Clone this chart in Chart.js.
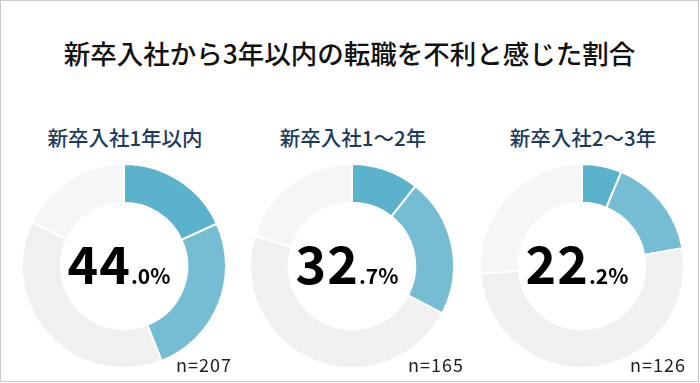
<!DOCTYPE html>
<html>
<head>
<meta charset="utf-8">
<script src="https://cdn.jsdelivr.net/npm/chart.js@4"></script>
<style>
  html, body { margin: 0; padding: 0; background: #fff; }
  body { font-family: "Noto Sans CJK JP", "Noto Sans", sans-serif; }
  #frame {
    position: relative; width: 697px; height: 380px;
    border: 1px solid #c9c9c9; background: #fff; overflow: hidden;
  }
  #title {
    position: absolute; left: 0; top: 32px; width: 100%;
    text-align: center; font-size: 26.5px; color: #111; font-weight: 500;
  }
  .sub {
    position: absolute; top: 121px; width: 240px; margin-left: -120px;
    text-align: center; font-size: 20.5px; font-weight: 500; color: #1d3a5c;
  }
  .box { position: absolute; top: 162px; width: 206px; height: 206px; margin-left: -104px; }
  .center {
    position: absolute; top: 223px; width: 200px; margin-left: -106px;
    text-align: center; color: #000; font-weight: 700; white-space: nowrap;
  }
  .center .big { font-size: 52px; letter-spacing: 1px; }
  .center .small { font-size: 21px; }
  .n { position: absolute; top: 350px; font-size: 18px; color: #222; letter-spacing: 1px; }
</style>
</head>
<body>
<div id="frame">
  <div id="title">新卒入社から3年以内の転職を不利と感じた割合</div>
</div>
<script>
var categories = ["新卒入社1年以内", "新卒入社1～2年", "新卒入社2～3年"];
var segmentLabels = ["とても不利", "やや不利", "あまり不利ではない", "不利ではない"];
var veryValues = [18.2, 10.7, 6.3];
var someValues = [25.8, 22.0, 15.9];
var notMuchValues = [38.0, 47.1, 51.6];
var notAtAllValues = [18.0, 20.2, 26.2];
var totalLabels = ["44.0", "32.7", "22.2"];
var sampleSizes = [207, 165, 126];

var centersX = [124, 352, 582];
var nLeft = [175, 407, 629];   // n= labels sit a bit differently under each ring
var colors = ["#5bb2cc", "#75bdd3", "#f0f0f0", "#f6f6f6"];
var frame = document.getElementById("frame");

categories.forEach(function (cat, i) {
    var cx = centersX[i];

    var sub = document.createElement("div");
    sub.className = "sub";
    sub.style.left = cx + "px";
    sub.textContent = cat;
    frame.appendChild(sub);

    var box = document.createElement("div");
    box.className = "box";
    box.style.left = cx + "px";
    var canvas = document.createElement("canvas");
    box.appendChild(canvas);
    frame.appendChild(box);

    new Chart(canvas, {
        type: "doughnut",
        data: {
            labels: segmentLabels,
            datasets: [{
                data: [veryValues[i], someValues[i], notMuchValues[i], notAtAllValues[i]],
                backgroundColor: colors,
                borderColor: "#ffffff",
                borderWidth: 2
            }]
        },
        options: {
            responsive: true,
            maintainAspectRatio: false,
            animation: false,
            cutout: "62%",
            layout: { padding: 0 },
            plugins: { legend: { display: false }, tooltip: { enabled: false } }
        }
    });

    var parts = totalLabels[i].split(".");
    var center = document.createElement("div");
    center.className = "center";
    center.style.left = cx + "px";
    center.innerHTML = '<span class="big">' + parts[0] + '</span><span class="small">.' + parts[1] + '%</span>';
    frame.appendChild(center);

    var n = document.createElement("div");
    n.className = "n";
    n.style.left = nLeft[i] + "px";
    n.textContent = "n=" + sampleSizes[i];
    frame.appendChild(n);
});
</script>
</body>
</html>
